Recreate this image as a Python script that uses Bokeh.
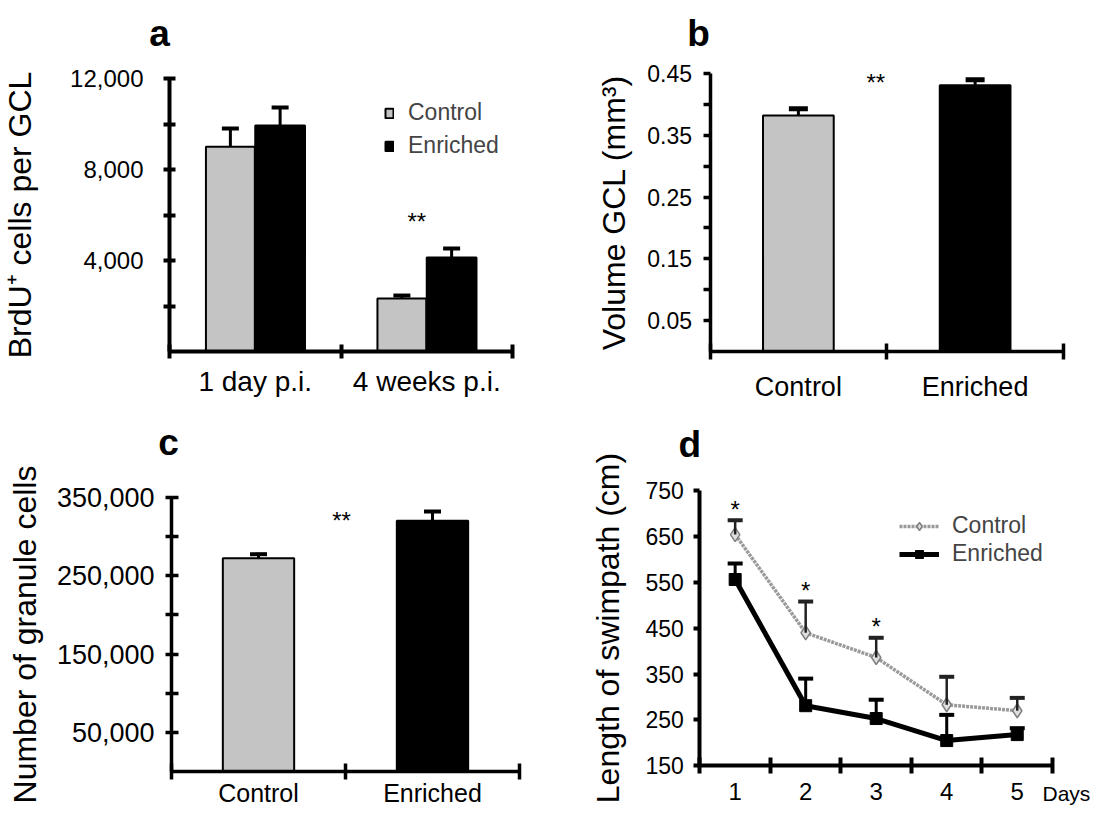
import numpy as np
from bokeh.plotting import figure
from bokeh.layouts import gridplot
from bokeh.models import (Range1d, FixedTicker, NumeralTickFormatter, ColumnDataSource,
                          Whisker, TeeHead, Legend, LegendItem)
from bokeh.core.properties import value
from bokeh.embed import file_html
from bokeh.resources import INLINE

FONT = "Liberation Sans"
CTRL_FILL = "#c4c4c4"

# ---------------- data ----------------
# panel a
a_groups = ["1 day p.i.", "4 weeks p.i."]
a_series = ["Control", "Enriched"]
a_control = [9000, 2330]
a_control_err = [9800, 2460]      # upper end of error bar
a_enriched = [9930, 4130]
a_enriched_err = [10720, 4530]
a_yticks = [4000, 8000, 12000]
a_yminor = [2000, 6000, 10000]
a_sig = ["", "**"]

# panel b
b_groups = ["Control", "Enriched"]
b_values = [0.382, 0.431]
b_err = [0.393, 0.440]
b_yticks = [0.05, 0.15, 0.25, 0.35, 0.45]
b_yminor = [0.10, 0.20, 0.30, 0.40]
b_sig = "**"

# panel c
c_groups = ["Control", "Enriched"]
c_values = [272500, 320300]
c_err = [277600, 332100]
c_yticks = [50000, 150000, 250000, 350000]
c_yminor = [100000, 200000, 300000]
c_sig = "**"

# panel d
d_series = ["Control", "Enriched"]
d_days = [1, 2, 3, 4, 5]
d_control = [654, 440, 386, 283, 270]
d_control_err = [685, 508, 429, 344, 298]
d_enriched = [556, 281, 253, 205, 218]
d_enriched_err = [591, 340, 294, 261, 232]
d_yticks = [150, 250, 350, 450, 550, 650, 750]
d_sig = ["*", "*", "*", "", ""]
d_xlabel = "Days"


# ---------------- helpers ----------------
def make_panel(w, h, left, right, top, bottom, x0, x1, y0, y1):
    """Frame covers the whole figure; the axes sit at fixed locations so the
    data rectangle (x0..x1, y0..y1) lands at the given pixel box."""
    sx = (right - left) / (x1 - x0)
    sy = (bottom - top) / (y1 - y0)
    xr = Range1d(x0 - left / sx, x1 + (w - right) / sx)
    yr = Range1d(y0 - (h - bottom) / sy, y1 + top / sy)
    p = figure(width=w, height=h, x_range=xr, y_range=yr, tools="", toolbar_location=None,
               output_backend="svg", title=None, min_border_left=0, min_border_right=0,
               min_border_top=0, min_border_bottom=0)
    p.outline_line_color = None
    p.xgrid.visible = False
    p.ygrid.visible = False
    p.background_fill_color = "white"
    p.border_fill_color = "white"
    p.xaxis.fixed_location = y0
    p.xaxis.bounds = (x0, x1)
    p.yaxis.fixed_location = x0
    p.yaxis.bounds = (y0, y1)
    return p


def style_axis(ax, lw, size, standoff, tin, tout, min_in, min_out, hide_major=False):
    ax.axis_line_width = lw
    ax.axis_line_color = "black"
    ax.major_tick_line_width = lw
    ax.major_tick_line_color = None if hide_major else "black"
    ax.minor_tick_line_width = lw
    ax.minor_tick_line_color = "black"
    ax.major_tick_in = tin
    ax.major_tick_out = tout
    ax.minor_tick_in = min_in
    ax.minor_tick_out = min_out
    ax.major_label_text_font = FONT
    ax.major_label_text_font_size = f"{size}px"
    ax.major_label_text_color = "black"
    ax.major_label_standoff = standoff
    ax.axis_label_text_font = FONT
    ax.axis_label_text_font_style = "normal"
    ax.axis_label_text_color = "black"
    ax.axis_label_text_font_size = "32px"


def whisker(p, src, color, lw, head, head_lw):
    w = Whisker(base="x", lower="top", upper="up", source=src, dimension="height",
                line_color=color, line_width=lw,
                upper_head=TeeHead(size=head, line_width=head_lw, line_color=color),
                lower_head=None, level="annotation")
    p.add_layout(w)


def note(p, x, y, text, xo, yo, size, align="center", baseline="middle", bold=False):
    p.text(x=x, y=y, text=text, x_offset=xo, y_offset=yo,
           text_font=value(FONT), text_font_size=f"{size}px",
           text_font_style="bold" if bold else "normal",
           text_align=align, text_baseline=baseline, text_color="black")


def cat_xaxis(p, groups, size, standoff, lw, tin, tout):
    centers = np.arange(len(groups)) + 0.5
    bounds = np.arange(len(groups) + 1)
    ax = p.xaxis[0]
    ax.ticker = FixedTicker(ticks=list(centers), minor_ticks=list(bounds))
    ax.major_label_overrides = {float(c): g for c, g in zip(centers, groups)}
    style_axis(ax, lw, size, standoff, 0, 0, tin, tout, hide_major=True)
    return centers, bounds


# ---------------- panel a ----------------
pa = make_panel(552, 403, 169, 512, 78, 351, 0, len(a_groups), 0, max(a_yticks))
ca, ba = cat_xaxis(pa, a_groups, 28, 7, 4, 7, 7)
ay = pa.yaxis[0]
ay.ticker = FixedTicker(ticks=a_yticks, minor_ticks=a_yminor)
ay.formatter = NumeralTickFormatter(format="0,0")
style_axis(ay, 4, 24, 20, 6, 6, 6, 6)
ay.axis_label = "BrdU\u207a cells per GCL"
ay.axis_label_standoff = 29

src_ac = ColumnDataSource(dict(x=ca - 0.145, top=a_control, up=a_control_err))
src_ae = ColumnDataSource(dict(x=ca + 0.145, top=a_enriched, up=a_enriched_err))
r_ac = pa.vbar(x="x", top="top", bottom=0, width=0.285, source=src_ac,
               fill_color=CTRL_FILL, line_color="black", line_width=2)
r_ae = pa.vbar(x="x", top="top", bottom=0, width=0.29, source=src_ae,
               fill_color="black", line_color="black", line_width=2)
whisker(pa, src_ac, "black", 3, 17, 4)
whisker(pa, src_ae, "black", 3, 17, 4)
note(pa, list(ca), a_enriched_err, a_sig, -10, -27, 24)
leg_a = Legend(items=[LegendItem(label=a_series[0], renderers=[r_ac]),
                      LegendItem(label=a_series[1], renderers=[r_ae])],
               location=(384, 244), glyph_width=10, glyph_height=12,
               label_text_font=FONT, label_text_font_size="23px", label_standoff=14,
               spacing=6, padding=0, margin=0, border_line_color=None,
               background_fill_alpha=0)
pa.add_layout(leg_a)
note(pa, [0], [max(a_yticks)], ["a"], -10, -45, 37, baseline="alphabetic", bold=True)

# ---------------- panel b ----------------
pb = make_panel(540, 403, 157.5, 511, 73, 351, 0, len(b_groups), 0, max(b_yticks))
cb, bb = cat_xaxis(pb, b_groups, 27, 12, 3.5, 8, 8)
by = pb.yaxis[0]
by.ticker = FixedTicker(ticks=b_yticks, minor_ticks=b_yminor)
by.formatter = NumeralTickFormatter(format="0.00")
style_axis(by, 3.5, 23, 11, 0, 7, 0, 7)
by.axis_label = "Volume GCL (mm\u00b3)"
by.axis_label_standoff = 13

src_b = ColumnDataSource(dict(x=cb, top=b_values, up=b_err, fill=[CTRL_FILL, "black"]))
pb.vbar(x="x", top="top", bottom=0, width=0.4, source=src_b,
        fill_color="fill", line_color="black", line_width=2)
whisker(pb, src_b, "black", 3, 19, 5)
note(pb, [bb[1]], [max(b_err)], [b_sig], -11, 3, 24)
note(pb, [0], [max(b_yticks)], ["b"], -11.5, -40, 37, baseline="alphabetic", bold=True)

# ---------------- panel c ----------------
pc = make_panel(552, 404, 171, 519, 94, 368, 0, len(c_groups), 0, max(c_yticks))
cc, bc = cat_xaxis(pc, c_groups, 25, -1, 3.5, 8, 8)
cy = pc.yaxis[0]
cy.ticker = FixedTicker(ticks=c_yticks, minor_ticks=c_yminor)
cy.formatter = NumeralTickFormatter(format="0,0")
style_axis(cy, 3.5, 27, 11, 7, 6, 7, 6)
cy.axis_label = "Number of granule cells"
cy.axis_label_standoff = 11

src_c = ColumnDataSource(dict(x=cc, top=c_values, up=c_err, fill=[CTRL_FILL, "black"]))
pc.vbar(x="x", top="top", bottom=0, width=0.41, source=src_c,
        fill_color="fill", line_color="black", line_width=2)
whisker(pc, src_c, "black", 3, 17, 4)
note(pc, [bc[1]], [max(c_err)], [c_sig], -4, 9, 24)
note(pc, [0], [max(c_yticks)], ["c"], -3, -55, 37, baseline="alphabetic", bold=True)

# ---------------- panel d ----------------
pd_ = make_panel(540, 404, 147.4, 500, 87, 362.3,
                 min(d_days) - 0.5, max(d_days) + 0.5, min(d_yticks), max(d_yticks))
dx = pd_.xaxis[0]
dx.ticker = FixedTicker(ticks=d_days, minor_ticks=[d - 0.5 for d in d_days] + [d_days[-1] + 0.5])
style_axis(dx, 4, 24, 9, 0, 0, 8, 8, hide_major=True)
dy = pd_.yaxis[0]
dy.ticker = FixedTicker(ticks=d_yticks)
dy.formatter = NumeralTickFormatter(format="0")
style_axis(dy, 4, 23, 10, 0, 6, 0, 0)
dy.axis_label = "Length of swimpath (cm)"
dy.axis_label_standoff = 16

src_dc = ColumnDataSource(dict(x=d_days, top=d_control, up=d_control_err, sig=d_sig))
src_de = ColumnDataSource(dict(x=d_days, top=d_enriched, up=d_enriched_err))
l_c = pd_.line(x="x", y="top", source=src_dc, line_color="#9a9a9a", line_width=3.5, line_dash="3 1")
m_c = pd_.scatter(x="x", y="top", source=src_dc, marker="diamond", size=14,
                  fill_color="#e0e0e0", line_color="#808080", line_width=1.5)
whisker(pd_, src_dc, "#222222", 2.5, 15, 4)
l_e = pd_.line(x="x", y="top", source=src_de, line_color="black", line_width=5)
m_e = pd_.scatter(x="x", y="top", source=src_de, marker="square", size=12,
                  fill_color="black", line_color="black")
whisker(pd_, src_de, "black", 3, 15, 4)
pd_.text(x="x", y="up", text="sig", source=src_dc, y_offset=-11,
         text_font=value(FONT), text_font_size="24px", text_align="center",
         text_baseline="middle", text_color="black")
leg_d = Legend(items=[LegendItem(label=d_series[0], renderers=[l_c, m_c]),
                      LegendItem(label=d_series[1], renderers=[l_e, m_e])],
               location=(347, 240), glyph_width=40, glyph_height=20,
               label_text_font=FONT, label_text_font_size="23px", label_standoff=13,
               spacing=1, padding=0, margin=0, border_line_color=None,
               background_fill_alpha=0)
pd_.add_layout(leg_d)
note(pd_, [max(d_days) + 0.5], [min(d_yticks)], [d_xlabel], -10, 28, 21, align="left")
note(pd_, [min(d_days) - 0.5], [max(d_yticks)], ["d"], -10, -46, 37, baseline="alphabetic", bold=True)

grid = gridplot([[pa, pb], [pc, pd_]], toolbar_location=None)
open("out.html", "w").write(file_html(grid, INLINE))
